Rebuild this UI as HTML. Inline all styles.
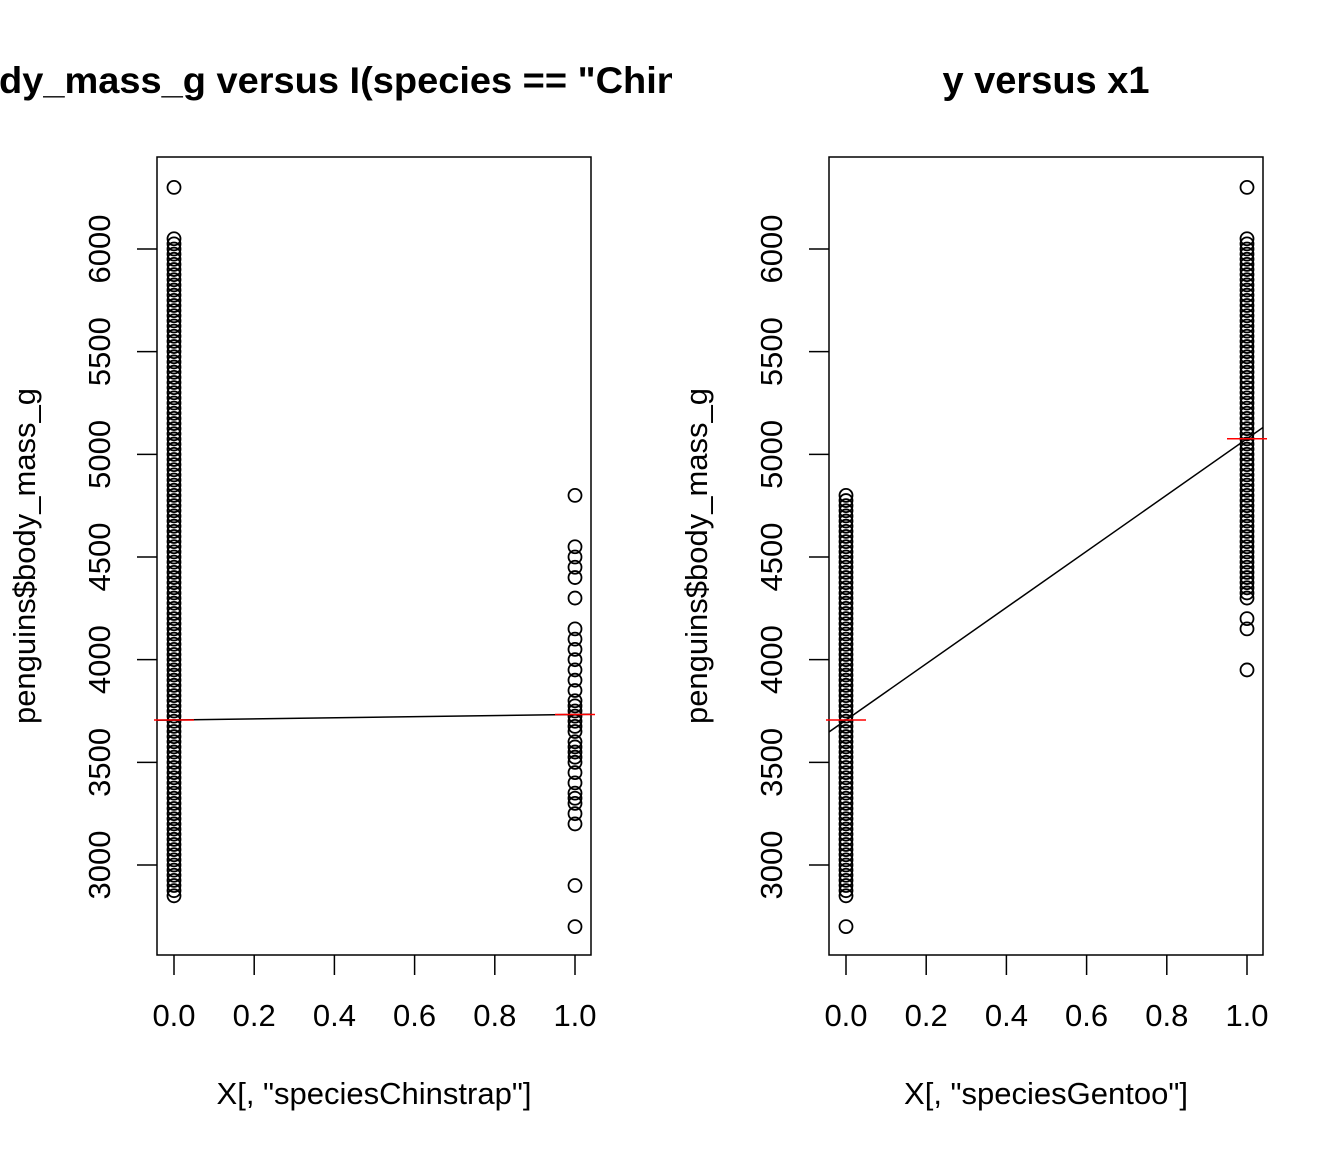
<!DOCTYPE html>
<html><head><meta charset="utf-8"><style>body{margin:0;background:#fff}svg{display:block}text{font-family:"Liberation Sans",Arial,sans-serif;fill:#000}</style></head>
<body>
<svg id="s" width="1344" height="1152" xmlns="http://www.w3.org/2000/svg">
<defs><clipPath id="c1"><rect x="0" y="0" width="672" height="1152"/></clipPath>
<clipPath id="p1"><rect x="157" y="157" width="434" height="798"/></clipPath>
<clipPath id="p2"><rect x="829" y="157" width="434" height="798"/></clipPath></defs>
<text x="-1" y="93" font-size="37" font-weight="bold" textLength="681" lengthAdjust="spacingAndGlyphs" clip-path="url(#c1)">dy_mass_g versus I(species == "Chin</text>
<text x="1046" y="93" font-size="38" font-weight="bold" text-anchor="middle">y versus x1</text>
<g id="g"></g>
</svg>
<script>
var g=document.getElementById('g'),h='';
function Y(v){return 865-(v-3000)*0.20533;}
function range(a,b,s){var r=[];for(var v=a;v<=b;v+=s)r.push(v);return r;}
var L0=range(2850,6050,25).concat([6300]);
var L1=[2700,2900,3200,3250,3300,3325,3350,3400,3450,3500,3525,3550,3575,3600,3650,3675,3700,3725,3750,3775,3800,3850,3900,3950,4000,4050,4100,4150,4300,4400,4450,4500,4550,4800];
var R0=[2700].concat(range(2850,4800,25));
var R1=[3950,4150,4200].concat(range(4300,6050,25)).concat([6300]);
function panel(ox,a0,a1,m0,m1,xl,cl){
 var x0=ox+17,x1=ox+418;
 h+='<rect x="'+ox+'" y="157" width="434" height="798" fill="none" stroke="#000" stroke-width="1.5"/>';
 [3000,3500,4000,4500,5000,5500,6000].forEach(function(v){var y=Y(v);
  h+='<line x1="'+(ox-20)+'" y1="'+y+'" x2="'+ox+'" y2="'+y+'" stroke="#000" stroke-width="1.5"/>';
  h+='<text transform="translate('+(ox-47)+','+y+') rotate(-90)" font-size="31" text-anchor="middle">'+v+'</text>';});
 for(var i=0;i<=5;i++){var x=x0+i*(x1-x0)/5;
  h+='<line x1="'+x+'" y1="955" x2="'+x+'" y2="975" stroke="#000" stroke-width="1.5"/>';
  h+='<text x="'+x+'" y="1026" font-size="31" text-anchor="middle">'+(i/5).toFixed(1)+'</text>';}
 h+='<text x="'+(ox+217)+'" y="1104" font-size="31" text-anchor="middle">'+xl+'</text>';
 h+='<text transform="translate('+(ox-122)+',556) rotate(-90)" font-size="31" text-anchor="middle">penguins$body_mass_g</text>';
 a0.forEach(function(v){h+='<circle cx="'+x0+'" cy="'+Y(v)+'" r="6.5" fill="none" stroke="#000" stroke-width="1.8"/>';});
 a1.forEach(function(v){h+='<circle cx="'+x1+'" cy="'+Y(v)+'" r="6.5" fill="none" stroke="#000" stroke-width="1.8"/>';});
 var sl=(m1-m0)/(x1-x0);
 h+='<line clip-path="url(#'+cl+')" x1="'+ox+'" y1="'+Y(m0-sl*17)+'" x2="'+(ox+434)+'" y2="'+Y(m0+sl*417)+'" stroke="#000" stroke-width="1.5"/>';
 h+='<line x1="'+(x0-20)+'" y1="'+Y(m0)+'" x2="'+(x0+20)+'" y2="'+Y(m0)+'" stroke="red" stroke-width="1.5"/>';
 h+='<line x1="'+(x1-20)+'" y1="'+Y(m1)+'" x2="'+(x1+20)+'" y2="'+Y(m1)+'" stroke="red" stroke-width="1.5"/>';
}
panel(157,L0,L1,3706,3733,'X[, "speciesChinstrap"]','p1');
panel(829,R0,R1,3706,5076,'X[, "speciesGentoo"]','p2');
g.innerHTML=h;
</script>
</body></html>
